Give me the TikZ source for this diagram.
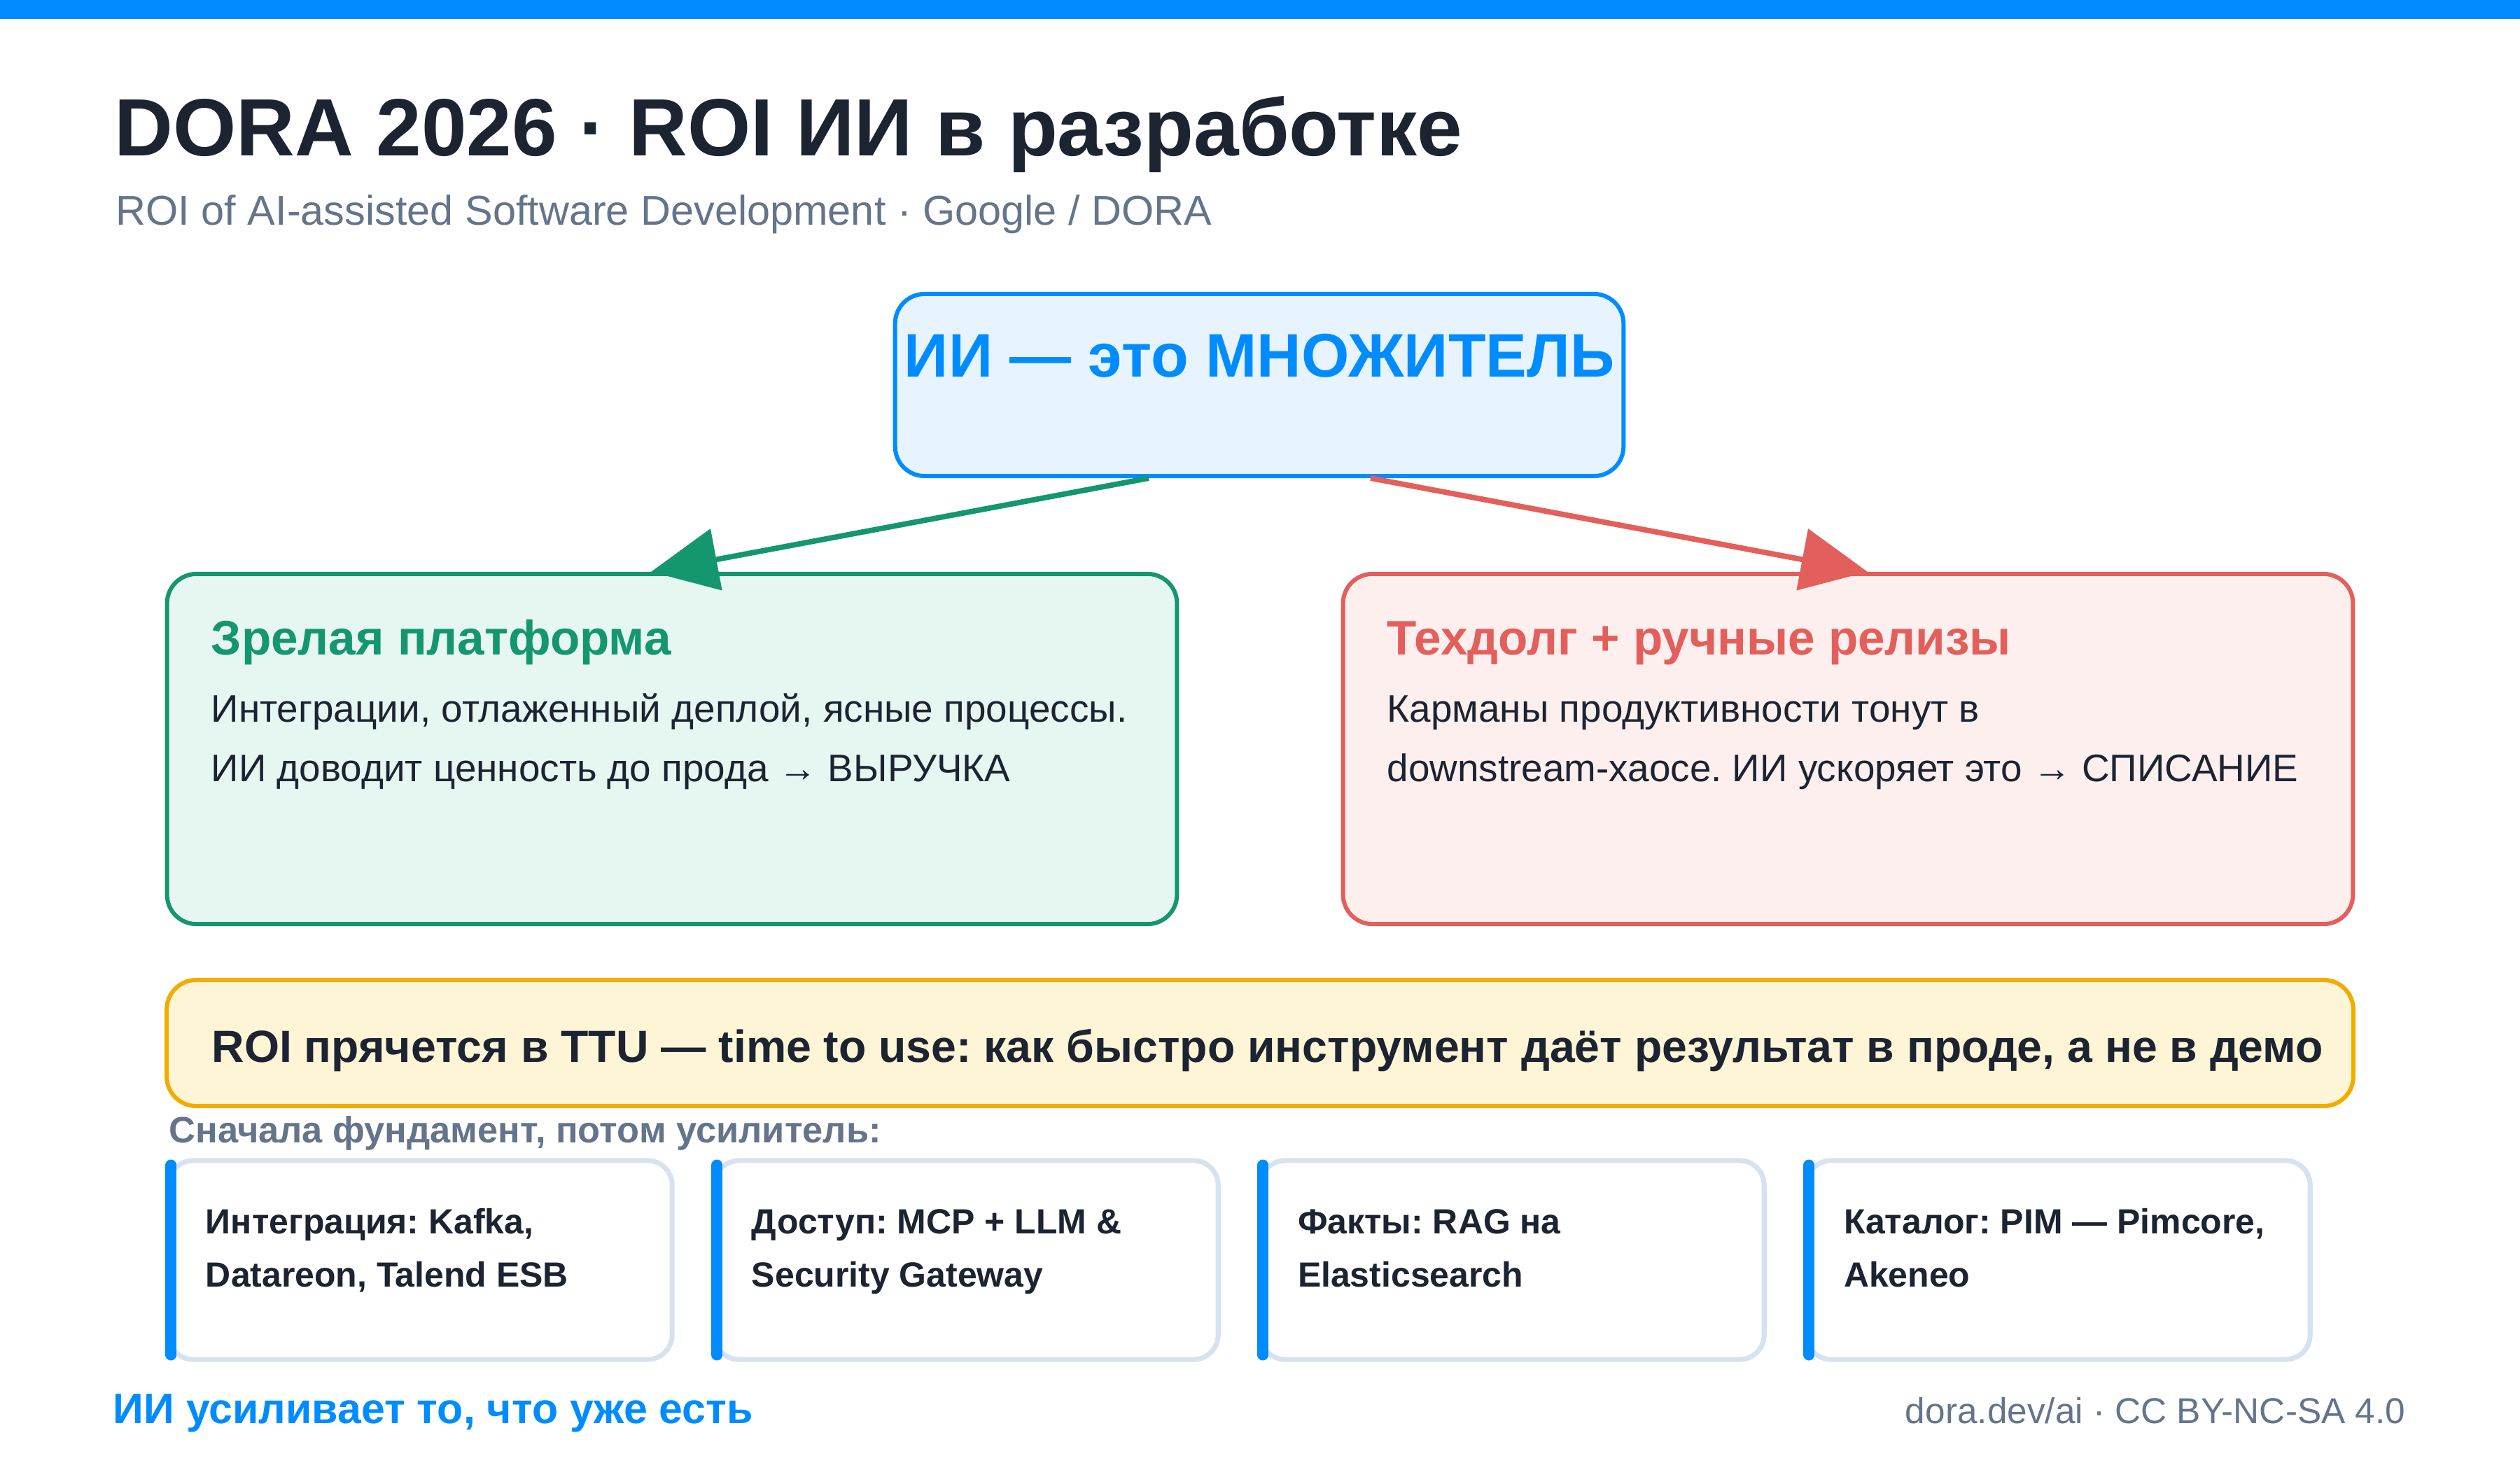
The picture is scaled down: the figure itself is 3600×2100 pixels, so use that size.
\documentclass[tikz,border=0pt]{standalone}
\usepackage{fontspec}
\setmainfont{Liberation Sans}
\frenchspacing
\usetikzlibrary{arrows.meta,calc}
\definecolor{ink}{HTML}{1C2331}
\definecolor{muted}{HTML}{64748B}
\definecolor{brand}{HTML}{008CFF}
\definecolor{brandsoft}{HTML}{E7F3FE}
\definecolor{good}{HTML}{14966F}
\definecolor{goodsoft}{HTML}{E6F6F0}
\definecolor{bad}{HTML}{E35F5B}
\definecolor{badsoft}{HTML}{FDEFEE}
\definecolor{warn}{HTML}{F2AC00}
\definecolor{warnsoft}{HTML}{FEF4D6}
\definecolor{edge}{HTML}{D6E2EF}
\tikzset{
  panel/.style={line width=1.7pt,rounded corners=12pt,inner sep=0pt},
  hub/.style={panel,draw=brand,fill=brandsoft,minimum width=10.4cm,minimum height=2.6cm},
  okbox/.style={panel,draw=good,fill=goodsoft,minimum width=14.42cm,minimum height=5cm},
  debtbox/.style={panel,draw=bad,fill=badsoft,minimum width=14.42cm,minimum height=5cm},
  notebox/.style={panel,draw=warn,fill=warnsoft,minimum width=31.22cm,minimum height=1.8cm},
  card/.style={panel,draw=edge,fill=white,line width=2pt,rounded corners=10pt,minimum width=7.19cm,minimum height=2.84cm},
  cardbar/.style={draw=brand,line width=4.5pt,line cap=round},
  txt/.style={anchor=base west,inner sep=0pt},
  head/.style={txt,font=\bfseries\fontsize{19.7}{24}\selectfont},
  body/.style={txt,align=left,text=ink,font=\fontsize{15.6}{24.1}\selectfont},
  cardtxt/.style={txt,align=left,text=ink,font=\bfseries\fontsize{14.2}{21.5}\selectfont},
  ar/.style={line width=2.2pt,-{Triangle[length=27pt,width=25pt]}},
}

\begin{document}
\begin{tikzpicture}[x=0.01cm,y=-0.01cm]
  \useasboundingbox (0,0) rectangle (3600,2100);
  \fill[brand] (0,0) rectangle (3600,27);

  % ── heading ──
  \node[txt,text=ink,font=\bfseries\fontsize{33}{40}\selectfont] (title) at (163,222) {DORA 2026 · ROI ИИ в разработке};
  \node[txt,text=muted,font=\fontsize{16.9}{20}\selectfont] (subtitle) at (165,321) {ROI of AI-assisted Software Development · Google / DORA};

  % ── the multiplier and its two outcomes ──
  \node[hub] (hub) at (1799,550) {};
  \node[inner sep=0pt,text=brand,font=\bfseries\fontsize{25}{30}\selectfont] (hubtxt) at (1799,508) {ИИ — это МНОЖИТЕЛЬ};

  \node[okbox] (plat) at (960,1070) {};
  \node[head,text=good] (plathead) at (301,935) {Зрелая платформа};
  % base of a two-line node is the base of its last line
  \node[body] (platbody) at (301,1116) {Интеграции, отлаженный деплой, ясные процессы.\\ИИ доводит ценность до прода → ВЫРУЧКА};

  \node[debtbox] (debt) at (2640,1070) {};
  \node[head,text=bad] (debthead) at (1981,935) {Техдолг + ручные релизы};
  \node[body] (debtbody) at (1981,1116) {Карманы продуктивности тонут в\\downstream-хаосе. ИИ ускоряет это → СПИСАНИЕ};

  \draw[ar,good] ($(hub.south)+(-158,0)$) -- ($(plat.north)+(-30,0)$);
  \draw[ar,bad] ($(hub.south)+(159,0)$) -- ($(debt.north)+(28,0)$);

  % ── TTU note ──
  \node[notebox] (note) at (1800,1490) {};
  \node[txt,text=ink,font=\bfseries\fontsize{18.3}{22}\selectfont] (notetxt) at (302,1517) {ROI прячется в TTU — time to use: как быстро инструмент даёт результат в проде, а не в демо};

  % ── foundation first ──
  \node[txt,text=muted,font=\bfseries\fontsize{14.9}{18}\selectfont] (steps) at (241,1632) {Сначала фундамент, потом усилитель:};
  \foreach \i/\lbl in {0/{Интеграция: Kafka,\\Datareon, Talend ESB},1/{Доступ: MCP + LLM \&\\Security Gateway},2/{Факты: RAG на\\Elasticsearch},3/{Каталог: PIM — Pimcore,\\Akeneo}} {
    \node[card] (card\i) at (600.5+\i*780,1800) {};
    \draw[cardbar] ($(card\i.north west)+(7,10)$) -- ($(card\i.south west)+(7,-10)$);
    \node[cardtxt] (cardtxt\i) at ($(card\i.north west)+(56,184)$) {\lbl};
  }

  % ── footer ──
  \node[txt,text=brand,font=\bfseries\fontsize{17.3}{20}\selectfont] (motto) at (161,2033) {ИИ усиливает то, что уже есть};
  \node[anchor=base east,inner sep=0pt,text=muted,font=\fontsize{14.6}{18}\selectfont] (source) at (3437,2033) {dora.dev/ai · CC BY-NC-SA 4.0};
\end{tikzpicture}
\end{document}
